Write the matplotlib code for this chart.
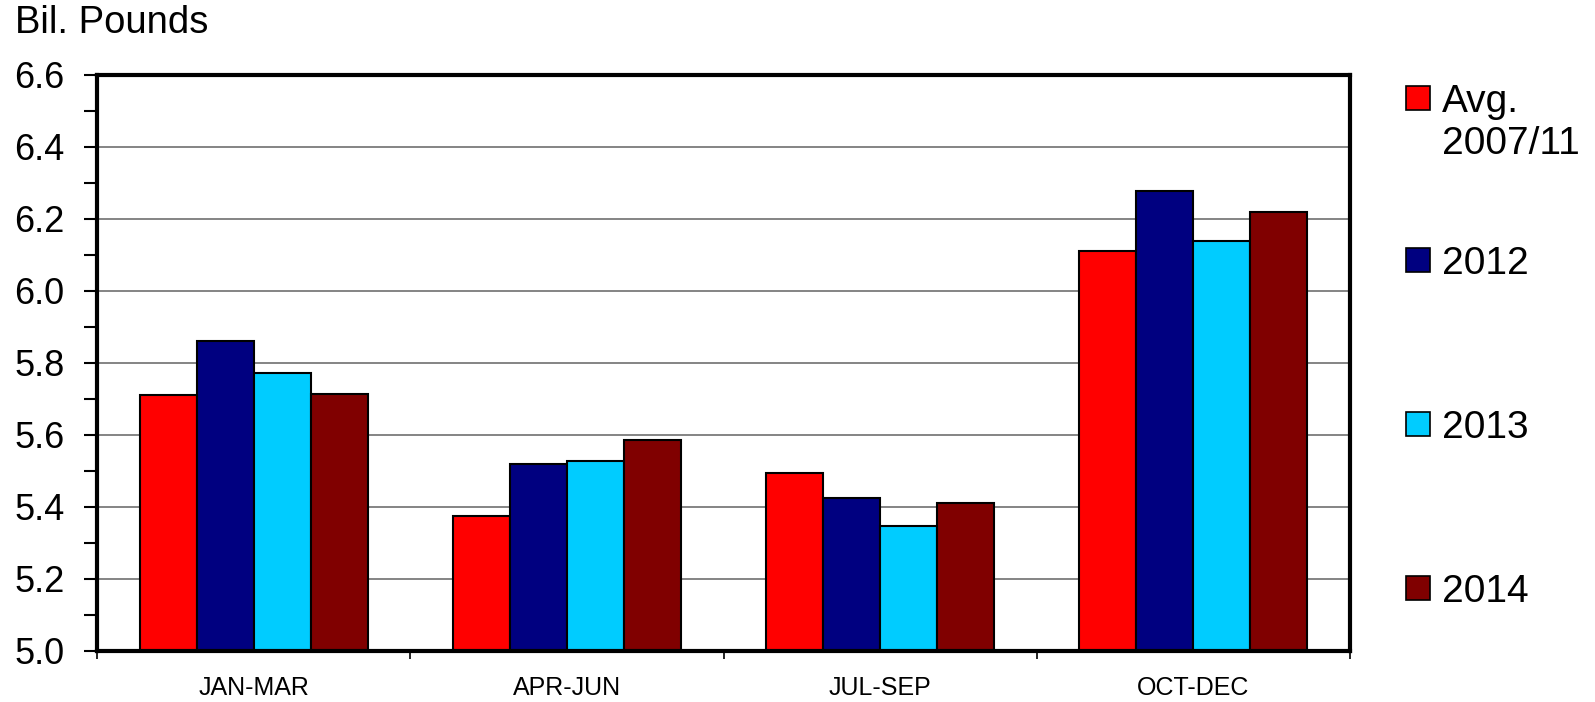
import numpy as np
import matplotlib
matplotlib.use("Agg")
import matplotlib.pyplot as plt
from matplotlib.patches import Rectangle
from matplotlib.ticker import MultipleLocator

plt.rcParams.update({
    "font.family": ["Liberation Sans", "DejaVu Sans"],
})

# Data (billion pounds, by quarter)
quarters = ["JAN-MAR", "APR-JUN", "JUL-SEP", "OCT-DEC"]
series_names = ["Avg.\n2007/11", "2012", "2013", "2014"]
avg_0711 = [5.71, 5.375, 5.494, 6.111]
y2012 = [5.86, 5.519, 5.426, 6.279]
y2013 = [5.772, 5.528, 5.348, 6.138]
y2014 = [5.715, 5.585, 5.41, 6.22]
colors = ["#FF0000", "#000080", "#00CCFF", "#800000"]

values = [avg_0711, y2012, y2013, y2014]

fig = plt.figure(figsize=(15.95, 7.02), dpi=100)
ax = fig.add_axes([97 / 1595, 1 - 651 / 702, (1350 - 97) / 1595, (651 - 75) / 702])

x = np.arange(len(quarters))
bw = 0.182
for i, (vals, c) in enumerate(zip(values, colors)):
    ax.bar(x + (i - 1.5) * bw, np.array(vals) - 5.0, bottom=5.0, width=bw,
           color=c, edgecolor="black", linewidth=1.5, zorder=3)

ax.set_xlim(-0.5, len(quarters) - 0.5)
ax.set_ylim(5.0, 6.6)
ax.yaxis.set_major_locator(MultipleLocator(0.2))
ax.yaxis.set_minor_locator(MultipleLocator(0.1))
ax.set_yticklabels([f"{v:.1f}" for v in ax.get_yticks()])
ax.yaxis.grid(True, which="major", color="#707070", linewidth=1.2, zorder=0)

# category labels between boundary ticks
ax.set_xticks(x)
ax.set_xticklabels(quarters, fontsize=18)
ax.tick_params(axis="x", which="major", length=0, pad=18)
ax.set_xticks(np.arange(len(quarters) + 1) - 0.5, minor=True)
ax.tick_params(axis="x", which="minor", length=6, width=1.2, direction="out")

ax.tick_params(axis="y", which="major", length=9.4, width=1.5, labelsize=26, pad=14)
ax.tick_params(axis="y", which="minor", length=9.4, width=1.5)

for s in ax.spines.values():
    s.set_linewidth(3)
    s.set_zorder(5)

fig.text(15 / 1595, 1 - 33 / 702, "Bil. Pounds", fontsize=27.5, va="baseline", ha="left")

# legend on the right
leg_y = [98, 260, 424, 588]
for name, c, yy in zip(series_names, colors, leg_y):
    fig.patches.append(Rectangle((1406 / 1595, 1 - (yy + 12) / 702), 24 / 1595, 24 / 702,
                                 transform=fig.transFigure, facecolor=c,
                                 edgecolor="black", linewidth=1.2))
    fig.text(1442 / 1595, 1 - (yy - 14) / 702, name, fontsize=28, va="top", ha="left",
             linespacing=1.2)

fig.savefig("out.png", dpi=100)
